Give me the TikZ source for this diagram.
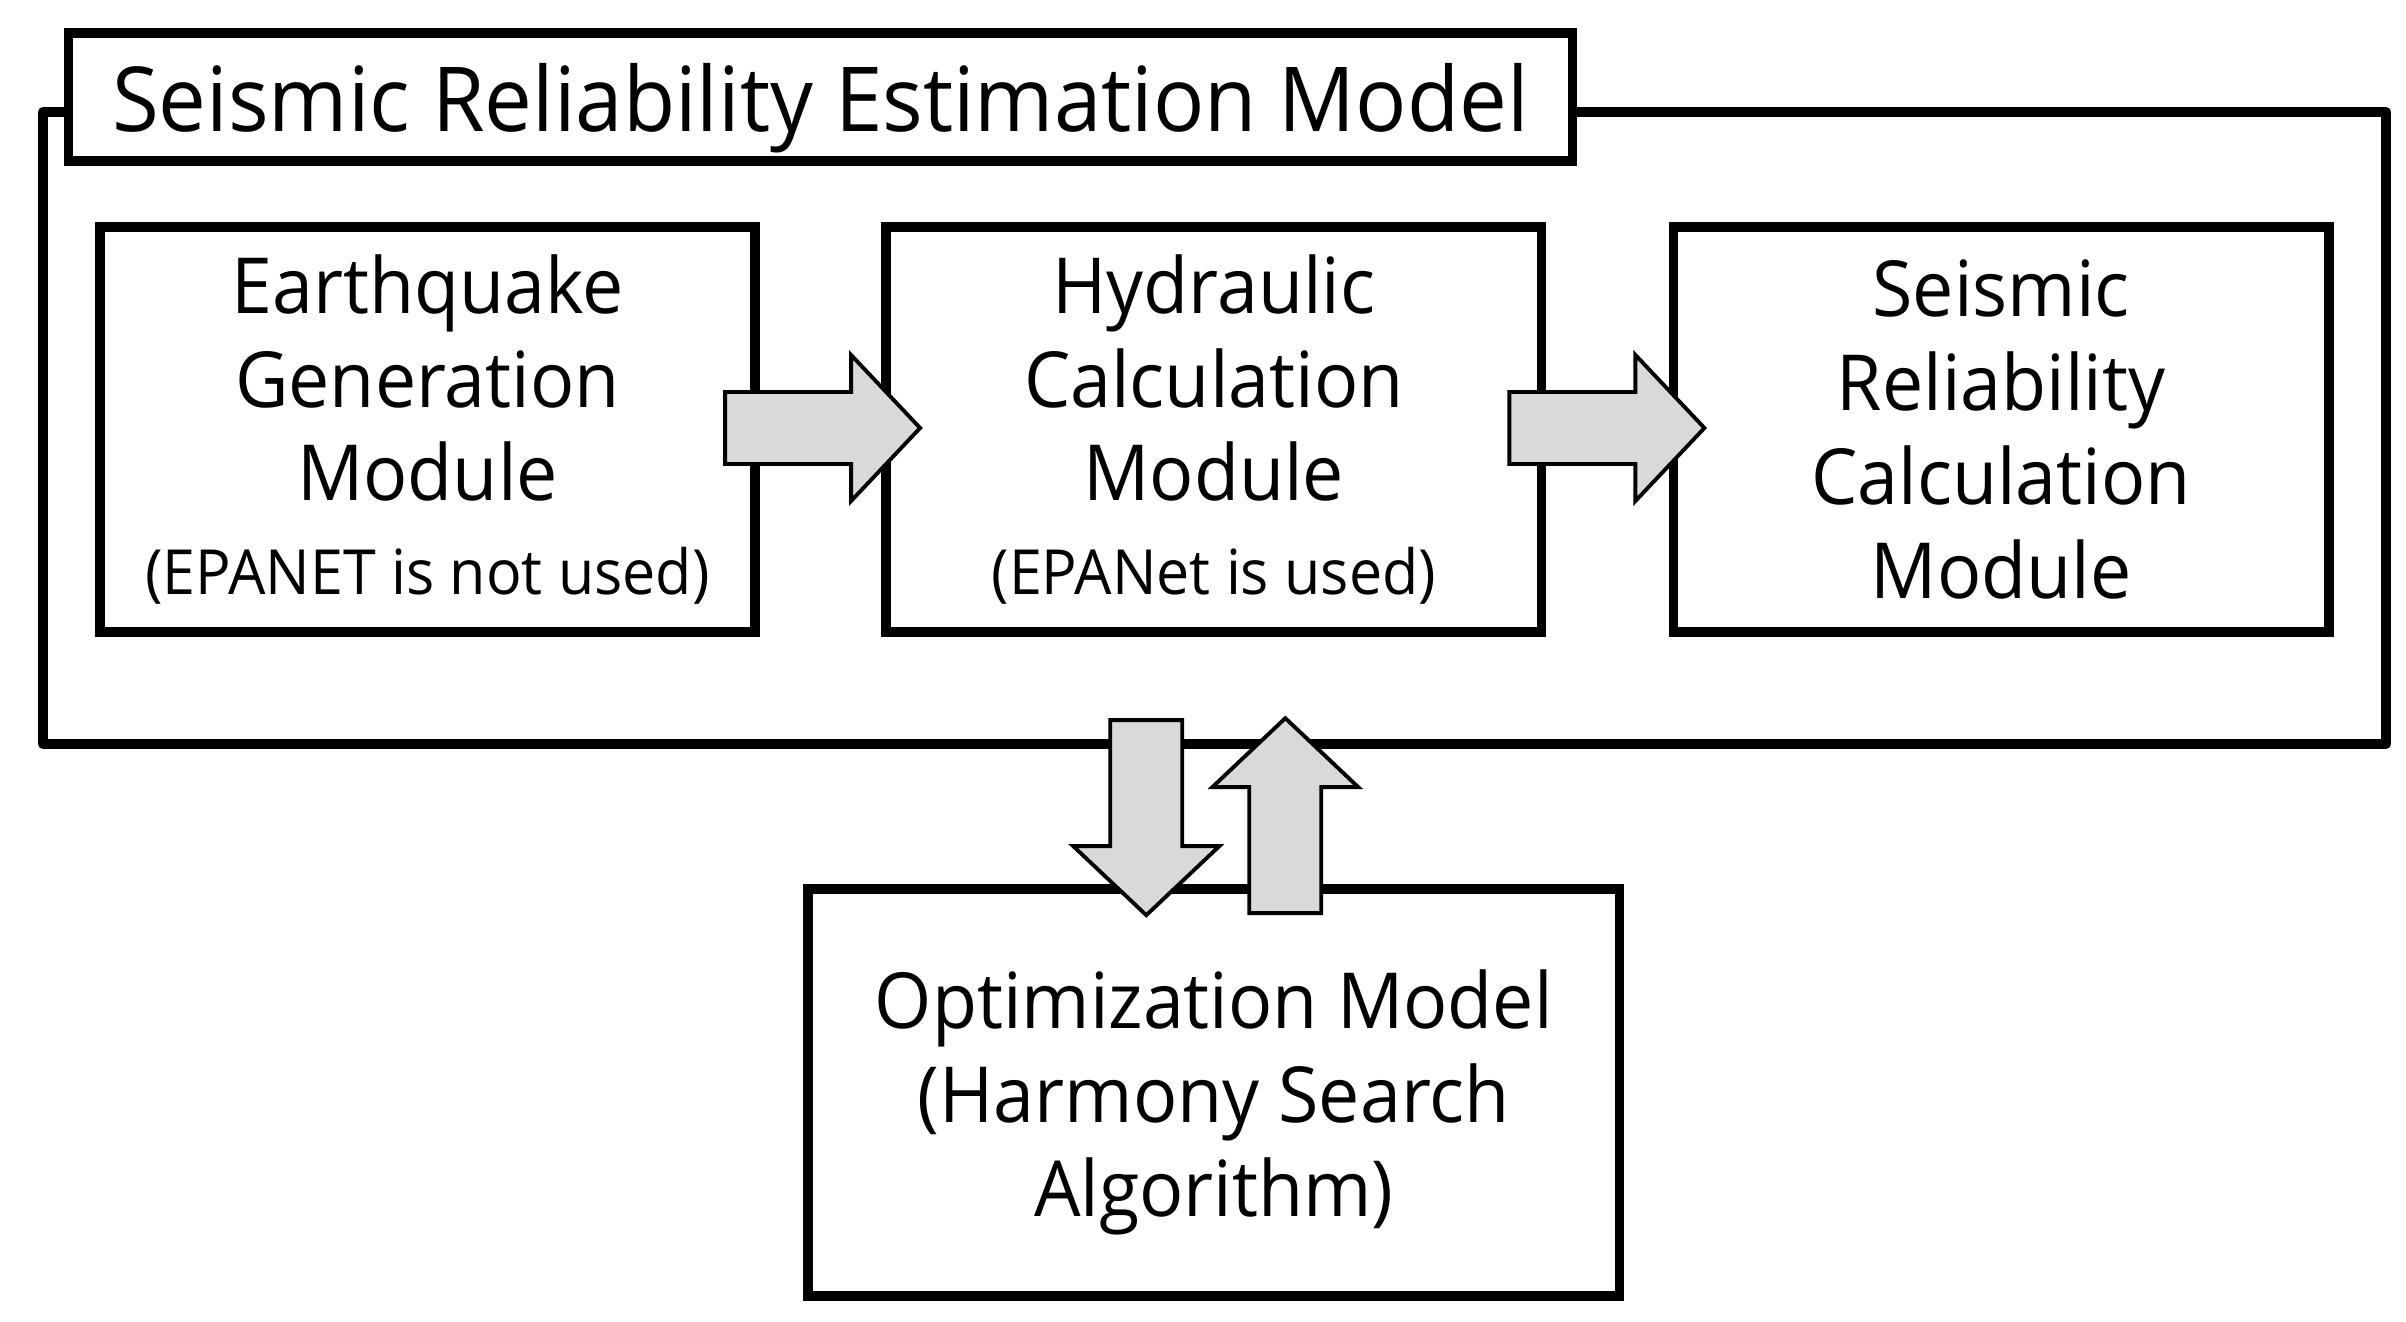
\documentclass[tikz,border=0pt]{standalone}
\usepackage{fontspec}
\setmainfont{Open Sans}[FakeStretch=0.95]
\usetikzlibrary{positioning,calc}
\definecolor{arrowgray}{RGB}{217,217,217}
\newcommand{\titlefont}{\fontsize{25.5}{30}\selectfont}
\newcommand{\modfont}{\fontsize{22}{26.7}\selectfont}
\newcommand{\notefont}{\fontsize{17.7}{20}\selectfont}

\begin{document}
\begin{tikzpicture}[x=0.01cm, y=0.01cm,
  module/.style={draw, line width=2.8pt, fill=white, minimum width=6.55cm, minimum height=4.05cm, align=center, inner sep=0pt, font=\modfont},
  blockarrow/.style={draw, line width=1.1pt, fill=arrowgray}]
%definitions
\def\blockarr#1#2{\filldraw[blockarrow, shift={#1}, rotate=#2] (0,-36) -- (126,-36) -- (126,-73) -- (195,0) -- (126,73) -- (126,36) -- (0,36) -- cycle;}
\useasboundingbox (0,0) rectangle (2406,1321);

%frame
\draw[line width=2.8pt, line join=round] (43,1209) rectangle (2386,577);
\node[draw, line width=2.8pt, fill=white, minimum width=15.03cm, minimum height=1.28cm, text depth=0pt, font=\titlefont] (srem) at (820.5,1224) {Seismic Reliability Estimation Model};

%modules
\node[module] (eg) at (427.5,891.5) {Earthquake\\Generation\\Module\\{\notefont(EPANET is not used)}};
\node[module, right=1.21cm of eg] (hc) {Hydraulic\\Calculation\\Module\\{\notefont(EPANet is used)}};
\node[module, right=1.22cm of hc] (src) {Seismic\\Reliability\\Calculation\\Module};
\node[module, minimum width=8.11cm, minimum height=4.07cm, text depth=0pt, below=2.47cm of hc] (opt) {Optimization Model\\(Harmony Search\\Algorithm)};

%arrows
\blockarr{($(eg.east)+(-35,1.5)$)}{0}
\blockarr{($(hc.east)+(-37,1.5)$)}{0}
\blockarr{($(opt.north)+(-67.5,164)$)}{-90}
\blockarr{($(opt.north)+(71.5,-29)$)}{90}
\end{tikzpicture}
\end{document}
